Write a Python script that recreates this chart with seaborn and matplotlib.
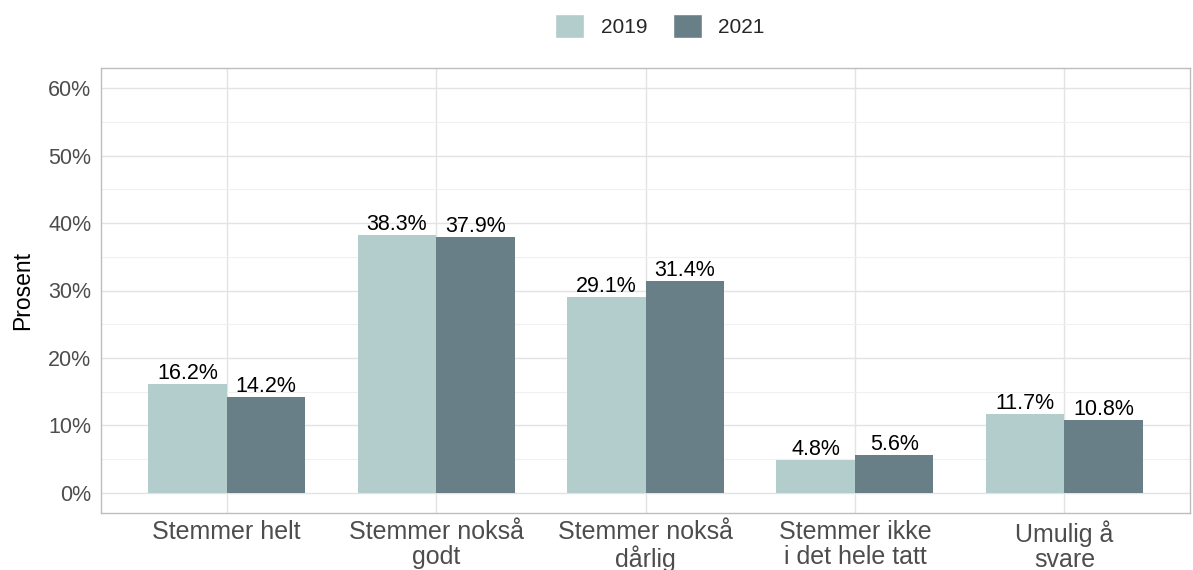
import pandas as pd
import matplotlib.pyplot as plt
import seaborn as sns
from matplotlib.ticker import MultipleLocator, PercentFormatter
from matplotlib.patches import Patch

categories = ['Stemmer helt', 'Stemmer nokså\ngodt', 'Stemmer nokså\ndårlig',
              'Stemmer ikke\ni det hele tatt', 'Umulig å\nsvare']
values_2019 = [16.2, 38.3, 29.1, 4.8, 11.7]
values_2021 = [14.2, 37.9, 31.4, 5.6, 10.8]
years = ['2019', '2021']
colors = ['#B3CCCC', '#687F88']

df = pd.DataFrame({
    'kategori': categories * 2,
    'prosent': values_2019 + values_2021,
    'aar': [years[0]] * 5 + [years[1]] * 5,
})

sns.set_style('white')
plt.rcParams['font.family'] = ['Liberation Sans', 'DejaVu Sans']

fig = plt.figure(figsize=(11.93, 5.70), dpi=100)
ax = fig.add_axes([101 / 1193, 1 - 513 / 570, 1089 / 1193, 445 / 570])

sns.barplot(data=df, x='kategori', y='prosent', hue='aar', palette=colors,
            width=0.75, saturation=1, ax=ax, legend=False, zorder=3,
            linewidth=0)

for cont in ax.containers:
    ax.bar_label(cont, fmt='%.1f%%', padding=0, fontsize=15.5, color='black')

ax.set_ylim(-3, 63)
ax.set_xlim(-0.6, 4.6)
ax.yaxis.set_major_locator(MultipleLocator(10))
ax.yaxis.set_minor_locator(MultipleLocator(5))
ax.yaxis.set_major_formatter(PercentFormatter(decimals=0))
ax.grid(True, which='major', color='#E3E3E3', linewidth=1.0, zorder=0)
ax.grid(True, which='minor', axis='y', color='#F0F0F0', linewidth=0.8, zorder=0)
ax.set_axisbelow(True)

for s in ax.spines.values():
    s.set_color('#BDBDBD')
    s.set_linewidth(1.0)

ax.tick_params(axis='both', which='major', length=4, color='#BDBDBD',
               labelcolor='#4D4D4D', pad=3)
ax.tick_params(axis='y', labelsize=15.5)
ax.tick_params(axis='x', labelsize=18, pad=1)
ax.tick_params(axis='y', which='minor', length=0)
ax.set_xlabel('')
ax.set_ylabel('Prosent', fontsize=16.5, color='black', labelpad=10)
for lab in ax.get_xticklabels():
    lab.set_linespacing(1.05)

handles = [Patch(facecolor=c, label=y) for c, y in zip(colors, years)]
fig.legend(handles=handles, loc='center', bbox_to_anchor=(660 / 1193, 1 - 26 / 570),
           ncol=2, frameon=False, fontsize=15, handlelength=1.4, handleheight=1.4,
           columnspacing=1.2, handletextpad=0.8)

fig.savefig('out.png', dpi=100)
